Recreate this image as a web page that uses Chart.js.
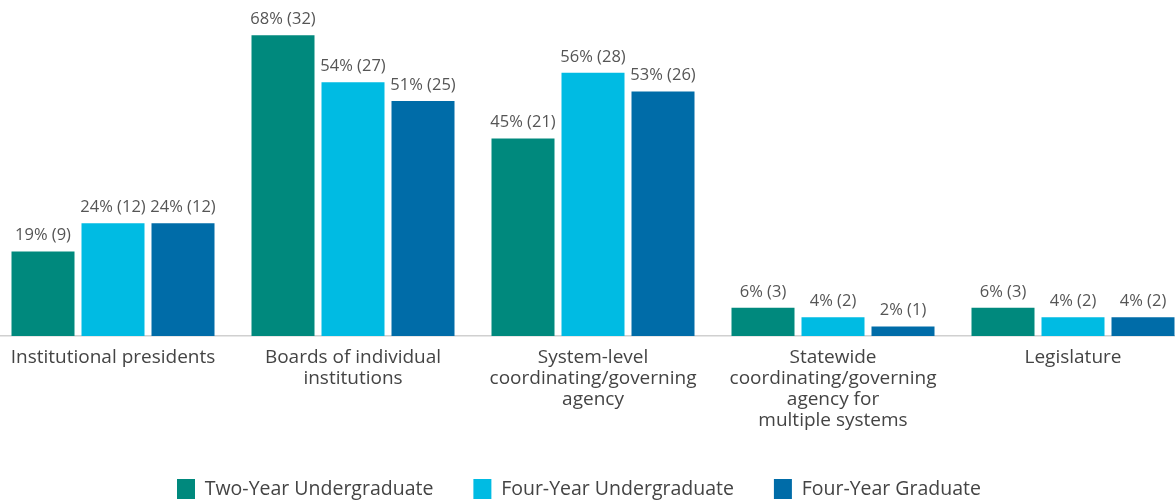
<!DOCTYPE html>
<html>
<head>
<meta charset="utf-8">
<script src="https://cdn.jsdelivr.net/npm/chart.js@4"></script>
<style>
  html, body { margin: 0; padding: 0; background: #fff; overflow: hidden; }
  #wrap { position: absolute; left: -7px; top: 0; width: 1200px; height: 502px; }
</style>
</head>
<body>
<div id="wrap"><canvas id="chart"></canvas></div>
<script>
// categorii si valori (numarul de institutii, procentul afisat)
const categories = [
    'Institutional presidents',
    ['Boards of individual', 'institutions'],
    ['System-level', 'coordinating/governing', 'agency'],
    ['Statewide', 'coordinating/governing', 'agency for', 'multiple systems'],
    'Legislature'
];
const seriesNames = ['Two-Year Undergraduate', 'Four-Year Undergraduate', 'Four-Year Graduate'];
const twoYearCounts = [9, 32, 21, 3, 3];
const fourYearUgCounts = [12, 27, 28, 2, 2];
const fourYearGradCounts = [12, 25, 26, 1, 2];
const twoYearPct = [19, 68, 45, 6, 6];
const fourYearUgPct = [24, 54, 56, 4, 4];
const fourYearGradPct = [24, 51, 53, 2, 4];
const colors = ['#00897d', '#00bbe3', '#006ca8'];

const counts = [twoYearCounts, fourYearUgCounts, fourYearGradCounts];
const pcts = [twoYearPct, fourYearUgPct, fourYearGradPct];

// eticheta deasupra fiecarei bare
const valueLabels = {
    id: 'valueLabels',
    afterDatasetsDraw(chart) {
        const ctx = chart.ctx;
        ctx.save();
        ctx.font = '16.5px "Open Sans"';
        ctx.fillStyle = '#555';
        ctx.textAlign = 'center';
        ctx.textBaseline = 'middle';
        chart.data.datasets.forEach((ds, i) => {
            chart.getDatasetMeta(i).data.forEach((bar, j) => {
                ctx.fillText(pcts[i][j] + '% (' + counts[i][j] + ')', bar.x, bar.y - 16);
            });
        });
        ctx.restore();
    }
};

// legenda putin mai la stanga, ca in original
const legendShift = {
    id: 'legendShift',
    afterLayout(chart) {
        if (chart.legend) {
            chart.legend.left -= 14;
            chart.legend.right -= 14;
        }
    }
};

const ctx = document.getElementById('chart').getContext('2d');
new Chart(ctx, {
    type: 'bar',
    data: {
        labels: categories,
        datasets: seriesNames.map((name, i) => ({
            label: name,
            data: counts[i],
            backgroundColor: colors[i],
            categoryPercentage: 0.875,
            barPercentage: 0.9
        }))
    },
    options: {
        responsive: true,
        maintainAspectRatio: false,
        animation: false,
        layout: { padding: { top: 7, left: 0, right: 0, bottom: -7 } },
        plugins: {
            tooltip: { enabled: false },
            legend: {
                position: 'bottom',
                labels: {
                    boxWidth: 18,
                    boxHeight: 20,
                    padding: 40,
                    color: '#444',
                    font: { family: 'Open Sans', size: 19.5 }
                }
            }
        },
        scales: {
            x: {
                grid: { display: false },
                border: { display: true, color: '#d0d0d0', width: 1.5 },
                ticks: {
                    color: '#444',
                    maxRotation: 0,
                    autoSkip: false,
                    padding: 3,
                    font: { family: 'Open Sans', size: 19, lineHeight: 1.1 }
                },
                afterFit(scale) { scale.height = 103; }
            },
            y: {
                display: false,
                min: 0,
                max: 35
            }
        }
    },
    plugins: [valueLabels, legendShift]
});
</script>
</body>
</html>
